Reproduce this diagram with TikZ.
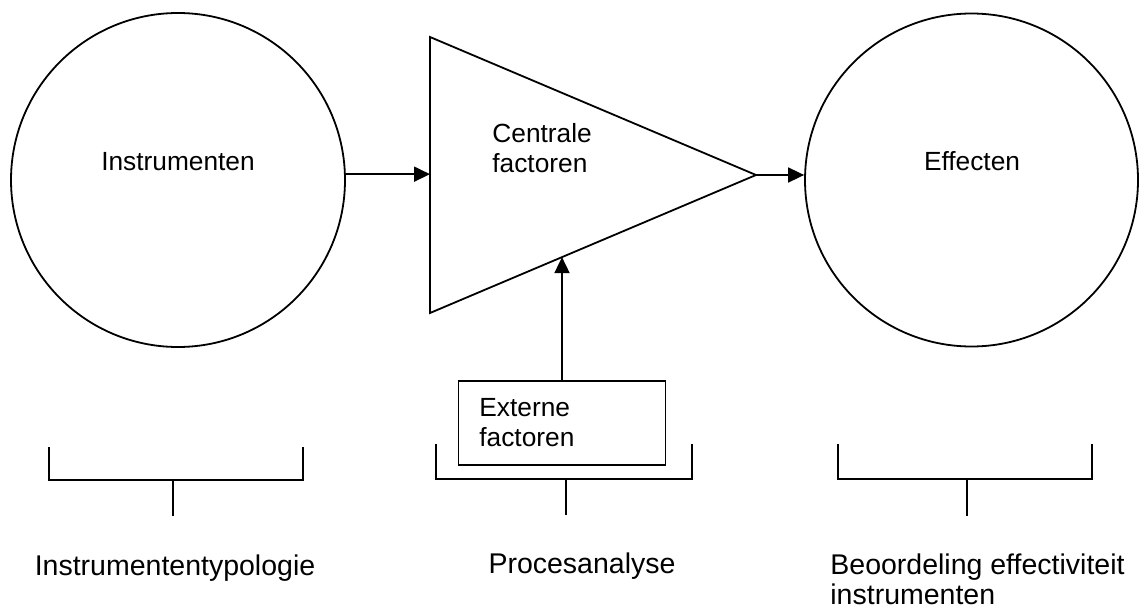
\documentclass[tikz,border=0pt]{standalone}
\usepackage{fontspec}
\setmainfont{Liberation Sans}
\usetikzlibrary{arrows.meta,calc}
\tikzset{
  shape line/.style={line width=0.9pt},
  arr/.style={line width=0.9pt,-{Triangle[length=8pt,width=7.5pt]}},
  inner text/.style={inner sep=0pt,font=\fontsize{13.15pt}{15pt}\selectfont},
  outer text/.style={inner sep=0pt,font=\fontsize{14.25pt}{15pt}\selectfont},
  bracket/.style={line width=0.9pt}
}
\begin{document}
\begin{tikzpicture}[x=0.5pt,y=-0.5pt]
\useasboundingbox (0,0) rectangle (1139,610);
% circles
\node[shape line,draw,circle,minimum size=167pt,inner sep=0pt] (inst) at (178,180) {};
\node[shape line,draw,circle,minimum size=166.5pt,inner sep=0pt] (eff) at (971.5,180) {};
\node[inner text,anchor=base] (instT) at (178,170) {Instrumenten};
\node[inner text,anchor=base] (effT) at (972,170) {Effecten};
% triangle
\coordinate (tA) at (430,37);
\coordinate (tB) at (430,313);
\coordinate (tC) at (756,175);
\draw[shape line,line join=miter] (tA) -- (tC) -- (tB) -- cycle;
\node[inner text,anchor=base west,align=left] (centT) at (492,172) {Centrale\\factoren};
% external box
\node[shape line,draw,rectangle,minimum width=103.5pt,minimum height=42pt,inner sep=0pt] (ext) at (562,423) {};
\node[inner text,anchor=base west,align=left] (extT) at (479,446) {Externe\\factoren};
% connectors
\coordinate (tBot) at ($(tB)!0.405!(tC)$);
\draw[arr] (inst.2.4) -- (inst.2.4 -| tA);
\draw[arr] (tC) -- (tC -| eff.west);
\draw[arr] (ext.north) -- (ext.north |- tBot);
% brackets
\draw[bracket] (49,447) -- (49,480) -- (303,480) -- (303,447);
\draw[bracket] (173,480) -- (173,516);
\draw[bracket] (436,444) -- (436,479) -- (692,479) -- (692,444);
\draw[bracket] (566,479) -- (566,515);
\draw[bracket] (838,444) -- (838,479) -- (1092,479) -- (1092,444);
\draw[bracket] (967,479) -- (967,516);
% bottom labels
\node[outer text,anchor=base] (typT) at (175,575) {Instrumententypologie};
\node[outer text,anchor=base] (procT) at (582,573) {Procesanalyse};
\node[outer text,anchor=base west,align=left] (beoT) at (830,604) {Beoordeling effectiviteit\\instrumenten};
\end{tikzpicture}
\end{document}
